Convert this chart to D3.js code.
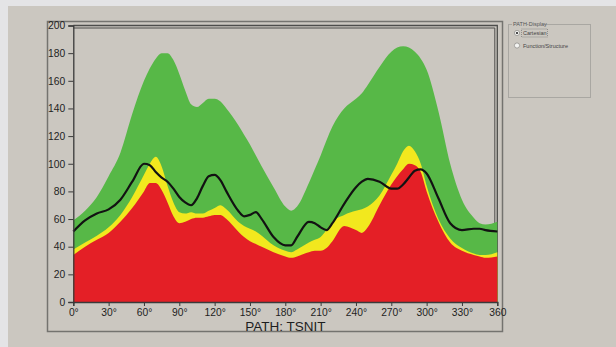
<!DOCTYPE html>
<html>
<head>
<meta charset="utf-8">
<script src="https://cdn.jsdelivr.net/npm/d3@7"></script>
<style>
  body { margin: 0; background: #e4e4e6; }
  svg { display: block; font-family: "Liberation Sans", Arial, sans-serif; }
</style>
</head>
<body>
<svg id="chart" width="616" height="347"></svg>
<script>

// Data (degrees, microns)
const angles    = [0,10,20,30,40,50,60,65,70,75,80,85,90,95,100,105,110,115,120,125,130,140,145,150,155,160,170,180,185,190,200,205,210,215,220,230,240,245,250,260,270,275,280,285,290,295,300,310,320,330,340,345,350,360];
const greenTop  = [59,66,76,91,108,136,160,169,176,180,180,175,165,153,143,141,144,147,147,145,140,128,121,114,106,98,83,69,66,69,86,96,106,117,127,140,147,151,157,170,181,184,185,184,181,176,168,138,100,74,61,57,56,58];
const yellowTop = [38,43,48,54,63,76,92,100,105,98,84,72,65,64,65,64,64,66,68,70,67,58,55,53,51,48,41,37,36,38,43,45,47,52,58,63,66,67,69,77,92,100,109,113,109,100,84,60,46,39,35,34,34,36];
const redTop    = [34,40,45,50,58,68,80,86,86,81,72,62,57,58,60,61,61,62,63,63,60,51,47,44,42,40,36,33,32,33,36,37,37,39,44,55,52,50,54,70,85,91,96,100,99,94,80,58,43,37,34,33,32,33];
const measured  = [51,59,64,67,74,87,100,99,94,90,87,82,76,72,70,75,84,91,92,88,80,66,62,63,65,60,47,41,41,47,58,57,54,52,57,71,83,87,89,87,82,82,85,90,95,96,93,75,57,52,53,53,52,51];

const yTicks = [0,20,40,60,80,100,120,140,160,180,200];
const xTicks = [0,30,60,90,120,150,180,210,240,270,300,330,360];
const xTickLabels = ["0°","30°","60°","90°","120°","150°","180°","210°","240°","270°","300°","330°","360"];

const svg = d3.select("#chart");

// Panel background
svg.append("rect")
    .attr("x", 8).attr("y", 6)
    .attr("width", 608).attr("height", 341)
    .attr("fill", "#cbc7c0");

// Scales
const x = d3.scaleLinear().domain([0, 360]).range([73.3, 497.3]);
const y = d3.scaleLinear().domain([0, 200]).range([302, 25.5]);

// Outer frame
svg.append("rect")
    .attr("x", 47.5).attr("y", 21.5)
    .attr("width", 455).attr("height", 310)
    .attr("fill", "none")
    .attr("stroke", "#74736f")
    .attr("stroke-width", 1.5);

// Plot box (double line top/right)
svg.append("path")
    .attr("d", `M${x(0)},${y(200)}H${x(360)}V${y(0)}`)
    .attr("fill", "none").attr("stroke", "#4d4d4b").attr("stroke-width", 1.3);
svg.append("path")
    .attr("d", `M${x(0)},${y(200) + 2.5}H${x(360) - 2.5}V${y(0)}`)
    .attr("fill", "none").attr("stroke", "#4d4d4b").attr("stroke-width", 1);

// Areas
const rows = angles.map((a, i) => ({a, g: greenTop[i], yl: yellowTop[i], r: redTop[i], m: measured[i]}));
const area = key => d3.area()
    .x(d => x(d.a))
    .y0(y(0))
    .y1(d => y(d[key]))
    .curve(d3.curveMonotoneX);

svg.append("path").datum(rows).attr("d", area("g")).attr("fill", "#57b847");
svg.append("path").datum(rows).attr("d", area("yl")).attr("fill", "#f2e81e");
svg.append("path").datum(rows).attr("d", area("r")).attr("fill", "#e41f26");

// Measured line
svg.append("path").datum(rows)
    .attr("d", d3.line().x(d => x(d.a)).y(d => y(d.m)).curve(d3.curveMonotoneX))
    .attr("fill", "none")
    .attr("stroke", "#121212")
    .attr("stroke-width", 2.2);

// Axes
const yAxis = svg.append("g")
    .attr("transform", `translate(${x(0)},0)`)
    .call(d3.axisLeft(y).tickValues(yTicks).tickSize(5).tickPadding(3));
const xAxis = svg.append("g")
    .attr("transform", `translate(0,${y(0)})`)
    .call(d3.axisBottom(x).tickValues(xTicks).tickFormat((d, i) => xTickLabels[i]).tickSize(4).tickPadding(2.5));

[yAxis, xAxis].forEach(g => {
    g.select(".domain").attr("stroke", "#3a3a3a").attr("stroke-width", 1.3);
    g.selectAll(".tick line").attr("stroke", "#3a3a3a");
    g.selectAll("text").attr("fill", "#1e1e1e").style("font-size", "10.3px");
});

// Axis title
svg.append("text")
    .attr("x", (x(0) + x(360)) / 2)
    .attr("y", 331)
    .attr("text-anchor", "middle")
    .attr("fill", "#1e1e1e")
    .style("font-size", "13.5px")
    .text("PATH: TSNIT");

// Display option box
const box = svg.append("g");
box.append("rect")
    .attr("x", 508.5).attr("y", 24.5)
    .attr("width", 82).attr("height", 73)
    .attr("fill", "none").attr("stroke", "#a9a7a2");
box.append("rect")
    .attr("x", 512).attr("y", 21).attr("width", 32).attr("height", 6)
    .attr("fill", "#cbc7c0");
box.append("text")
    .attr("x", 513).attr("y", 26)
    .attr("fill", "#555").style("font-size", "5.5px")
    .text("PATH-Display");

const options = ["Cartesian", "Function/Structure"];
options.forEach((label, i) => {
    const cy = 33 + i * 12.5;
    box.append("circle")
        .attr("cx", 517).attr("cy", cy).attr("r", 2.6)
        .attr("fill", "#f4f4f2").attr("stroke", "#8a8884").attr("stroke-width", 0.7);
    if (i === 0) {
        box.append("circle").attr("cx", 517).attr("cy", cy).attr("r", 1.1).attr("fill", "#222");
        box.append("rect")
            .attr("x", 521.5).attr("y", cy - 4).attr("width", 26).attr("height", 8)
            .attr("fill", "none").attr("stroke", "#666").attr("stroke-width", 0.6)
            .attr("stroke-dasharray", "1,1");
    }
    box.append("text")
        .attr("x", 523).attr("y", cy + 2)
        .attr("fill", "#444").style("font-size", "5.5px")
        .text(label);
});
</script>
</body>
</html>
